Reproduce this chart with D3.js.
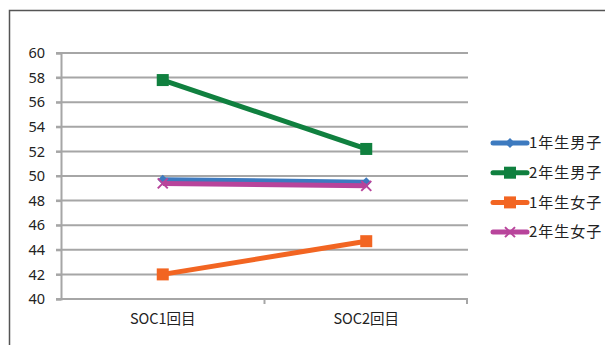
<!DOCTYPE html>
<html>
<head>
<meta charset="utf-8">
<script src="https://cdn.jsdelivr.net/npm/d3@7"></script>
<style>
  body { margin: 0; background: #fff; }
  text { font-family: "Noto Sans CJK JP", "DejaVu Sans", sans-serif; fill: #222; }
  .ytick text { font-family: "Noto Sans", "Noto Sans CJK JP", sans-serif; }
</style>
</head>
<body>
<div id="graph1"></div>
<script>
const w = 605;
const h = 345;

// data
const categories = ["SOC1回目", "SOC2回目"];
const seriesNames = ["1年生男子", "2年生男子", "1年生女子", "2年生女子"];
const boys1 = [49.7, 49.5];
const boys2 = [57.8, 52.2];
const girls1 = [42.0, 44.7];
const girls2 = [49.4, 49.2];
const yTicks = [40, 42, 44, 46, 48, 50, 52, 54, 56, 58, 60];

const colors = ["#3d7abf", "#10803f", "#f26522", "#b8449b"];
const markers = ["diamond", "square", "square", "cross"];
const series = [boys1, boys2, girls1, girls2];

const plot = { left: 61, right: 468, top: 53, bottom: 299 };

const svg = d3.select("#graph1")
    .append("svg")
    .attr("width", w)
    .attr("height", h);

// outer frame (only top and left visible)
svg.append("path")
    .attr("d", "M9.5,345 L9.5,10.5 L605,10.5")
    .style("fill", "none")
    .style("stroke", "#555")
    .style("stroke-width", 1.5);

const x = d3.scaleBand()
    .domain(categories)
    .range([plot.left, plot.right]);

const y = d3.scaleLinear()
    .domain([40, 60])
    .range([plot.bottom, plot.top]);

// gridlines
svg.append("g")
    .selectAll("line")
    .data(yTicks)
    .enter()
    .append("line")
    .attr("x1", plot.left - 5)
    .attr("x2", plot.right)
    .attr("y1", d => y(d))
    .attr("y2", d => y(d))
    .style("stroke", "#a6a6a6")
    .style("stroke-width", 2);

// y axis
const yAxis = svg.append("g")
    .attr("class", "ytick")
    .attr("transform", "translate(" + plot.left + ",0)")
    .call(d3.axisLeft(y).tickValues(yTicks).tickSize(5).tickPadding(11));
yAxis.selectAll("text").style("font-size", "14.5px");
yAxis.selectAll("line, path").style("stroke", "#a6a6a6").style("stroke-width", 2);

// x axis
const xAxis = svg.append("g")
    .attr("transform", "translate(0," + plot.bottom + ")")
    .call(d3.axisBottom(x).tickSize(0).tickPadding(15));
xAxis.select("path").remove();
xAxis.selectAll("text").style("font-size", "14.5px");
xAxis.append("line")
    .attr("x1", plot.left).attr("x2", plot.right)
    .style("stroke", "#a6a6a6").style("stroke-width", 2);
xAxis.selectAll(".bound")
    .data([plot.left + x.step(), plot.right - 1])
    .enter()
    .append("line")
    .attr("x1", d => d).attr("x2", d => d)
    .attr("y1", 0).attr("y2", 5)
    .style("stroke", "#a6a6a6").style("stroke-width", 2);

const cx = d => x(d) + x.bandwidth() / 2;

function drawMarker(g, type, color, px, py, s) {
    if (type === "diamond") {
        g.append("path")
            .attr("d", `M${px},${py - s} L${px + s},${py} L${px},${py + s} L${px - s},${py} Z`)
            .style("fill", color);
    } else if (type === "square") {
        g.append("rect")
            .attr("x", px - s).attr("y", py - s)
            .attr("width", 2 * s).attr("height", 2 * s)
            .style("fill", color);
    } else {
        g.append("path")
            .attr("d", `M${px - s},${py - s} L${px + s},${py + s} M${px - s},${py + s} L${px + s},${py - s}`)
            .style("stroke", color).style("stroke-width", 2);
    }
}

const line = d3.line()
    .x((d, i) => cx(categories[i]))
    .y(d => y(d));

// draw in order so pink sits over blue
series.forEach(function(vals, k) {
    const g = svg.append("g");
    g.append("path")
        .datum(vals)
        .attr("d", line)
        .style("fill", "none")
        .style("stroke", colors[k])
        .style("stroke-width", 5);
    vals.forEach(function(v, i) {
        const s = markers[k] === "square" ? 6 : 5;
        drawMarker(g, markers[k], colors[k], cx(categories[i]), y(v), s);
    });
});

// legend
const legend = svg.append("g");
seriesNames.forEach(function(name, k) {
    const ly = 143 + k * 29.7;
    const g = legend.append("g");
    g.append("line")
        .attr("x1", 493).attr("x2", 527)
        .attr("y1", ly).attr("y2", ly)
        .style("stroke", colors[k])
        .style("stroke-width", 5)
        .style("stroke-linecap", "round");
    drawMarker(g, markers[k], colors[k], 510, ly, markers[k] === "square" ? 6 : 5);
    g.append("text")
        .attr("x", 529)
        .attr("y", ly)
        .attr("dy", "0.35em")
        .style("font-size", "15px")
        .style("letter-spacing", "1px")
        .text(name);
});
</script>
</body>
</html>
